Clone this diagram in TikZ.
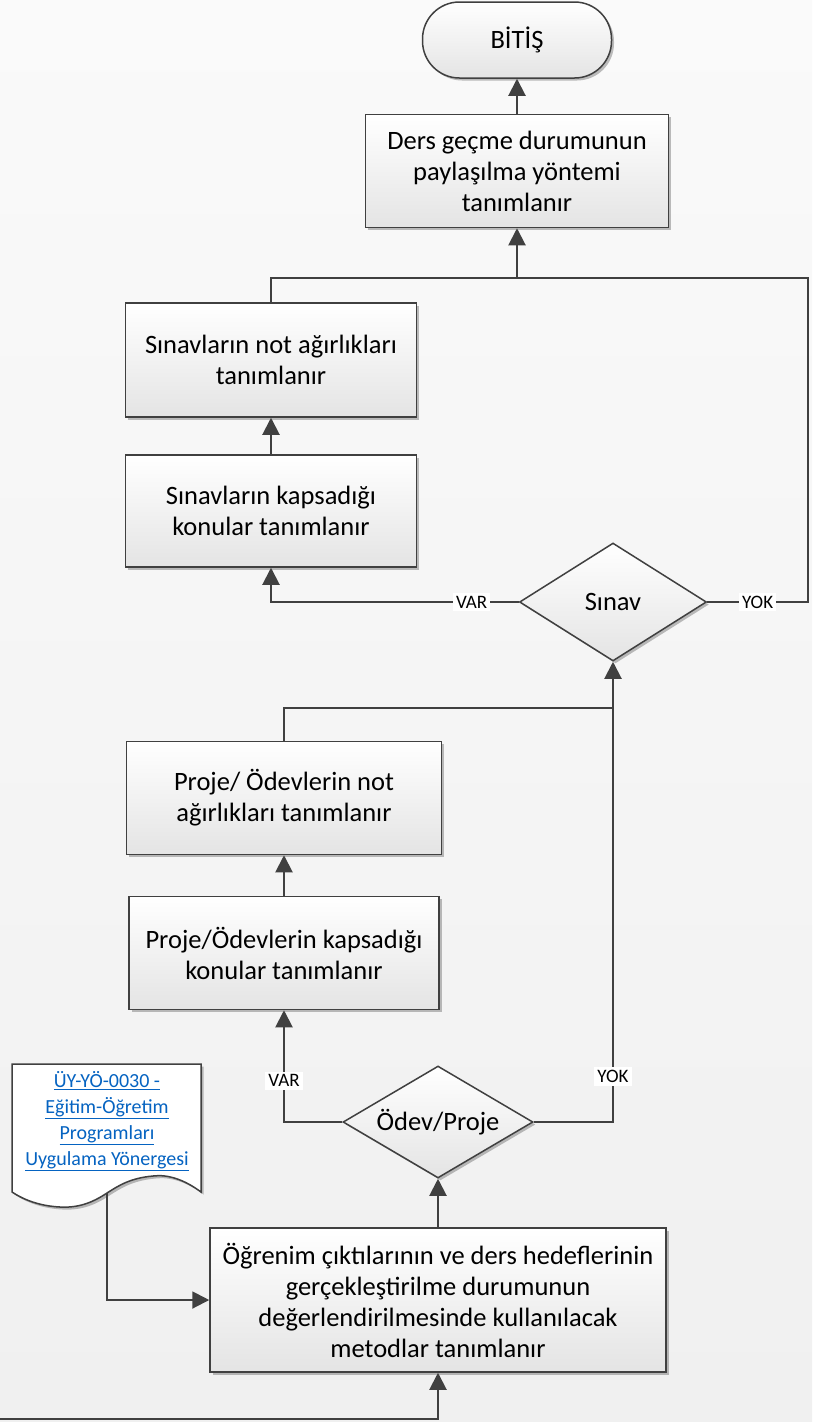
\documentclass[tikz,border=0pt]{standalone}
\usepackage{fontspec}
\setmainfont{Carlito}
\usetikzlibrary{arrows.meta,shapes.geometric,shadows}
\definecolor{linegray}{HTML}{404040}
\definecolor{boxgray}{HTML}{E4E4E4}
\definecolor{linkblue}{HTML}{0563C1}
\definecolor{bgtop}{HTML}{FAFAFA}
\definecolor{bgbottom}{HTML}{F0F0F0}

\begin{document}
\begin{tikzpicture}[x=1pt,y=-1pt,
  every node/.style = {align=center, text=black,
    font=\fontsize{26.5}{31}\selectfont},
  shade/.style = {draw=linegray, line width=1.5pt,
    top color=white, bottom color=boxgray,
    drop shadow={shadow xshift=2.5pt, shadow yshift=-2.5pt,
      opacity=0.25, fill=black}},
  flow/.style = {draw=linegray, line width=2pt,
    -{Triangle[length=17pt,width=17pt]}},
  link/.style = {draw=linegray, line width=2pt},
  lbl/.style = {fill=white, inner sep=3pt,
    font=\fontsize{19}{21}\selectfont}]
  \tikzstyle{proc}=[shape=rectangle, shade]
  \tikzstyle{decide}=[shape=diamond, shade, inner sep=0pt, aspect=1.65]
  \tikzstyle{term}=[shape=rectangle, rounded corners=37pt, shade]

  % background and frame
  \fill[top color=bgtop, bottom color=bgbottom] (0,0) rectangle (812,1422);
  \useasboundingbox (0,0) rectangle (812,1422);

  \node[term, minimum width=189, minimum height=76] (bitis) at (517,40) {BİTİŞ};
  \node[proc, minimum width=303, minimum height=113] (pay) at (517,171)
    {Ders geçme durumunun\\paylaşılma yöntemi\\tanımlanır};
  \node[proc, minimum width=291, minimum height=114] (agirlik) at (271,360)
    {Sınavların not ağırlıkları\\tanımlanır};
  \node[proc, minimum width=291, minimum height=112] (kapsam) at (271,511)
    {Sınavların kapsadığı\\konular tanımlanır};
  \node[decide, minimum width=187, minimum height=118] (sinav) at (613,602) {Sınav};
  \node[proc, minimum width=315, minimum height=113] (pagirlik) at (284,798)
    {Proje/ Ödevlerin not\\ağırlıkları tanımlanır};
  \node[proc, minimum width=310, minimum height=113] (pkapsam) at (284,953)
    {Proje/Ödevlerin kapsadığı\\konular tanımlanır};
  \node[decide, minimum width=190, minimum height=112] (odev) at (438,1122) {Ödev/Proje};
  \node[proc, minimum width=456, minimum height=144] (ogrenim) at (438,1300)
    {Öğrenim çıktılarının ve ders hedeflerinin\\gerçekleştirilme durumunun\\
     değerlendirilmesinde kullanılacak\\metodlar tanımlanır};

  % document shape with the regulation link
  \filldraw[draw=linegray, line width=1.5pt, fill=white,
    drop shadow={shadow xshift=2.5pt, shadow yshift=-2.5pt, opacity=0.25, fill=black}]
    (12,1064) -- (201,1064) -- (201,1192)
    .. controls (185,1180) and (168,1174) .. (153,1176)
    .. controls (130,1178) and (118,1186) .. (107,1193)
    .. controls (92,1203) and (78,1208) .. (60,1207)
    .. controls (40,1206) and (24,1200) .. (12,1192) -- cycle;
  \node[text=linkblue, font=\fontsize{20}{26}\selectfont] (doc) at (107,1121)
    {\underline{ÜY-YÖ-0030 -}\\\underline{Eğitim-Öğretim}\\
     \underline{Programları}\\\underline{Uygulama Yönergesi}};

  \coordinate (jtop) at (517,278);
  \coordinate (jright) at (808,278);
  \coordinate (jmid) at (613,708);
  \coordinate (docout) at (107,1193);
  \coordinate (entry) at (0,1419);

  % connectors
  \draw[flow] (pay) -- (bitis);
  \draw[flow] (jtop) -- (pay);
  \draw[link] (agirlik.north) |- (jtop);
  \draw[link] (sinav.east) -- node[lbl]{YOK} (sinav.east -| jright) -- (jright) -- (jtop);
  \draw[flow] (sinav.west) -- node[lbl, pos=0.19]{VAR} (sinav.west -| kapsam.south)
    -- (kapsam.south);
  \draw[flow] (kapsam) -- (agirlik);
  \draw[flow] (jmid) -- (sinav.south);
  \draw[link] (pagirlik.north) |- (jmid);
  \draw[link] (odev.east) -- (odev.east -| jmid) -- node[lbl, pos=0.11]{YOK} (jmid);
  \draw[flow] (pkapsam) -- (pagirlik);
  \draw[flow] (odev.west) -- (odev.west -| pkapsam.south)
    -- node[lbl, pos=0.37]{VAR} (pkapsam.south);
  \draw[flow] (ogrenim) -- (odev);
  \draw[flow] (docout) |- (ogrenim.west);
  \draw[flow] (entry) -| (ogrenim.south);
\end{tikzpicture}
\end{document}
